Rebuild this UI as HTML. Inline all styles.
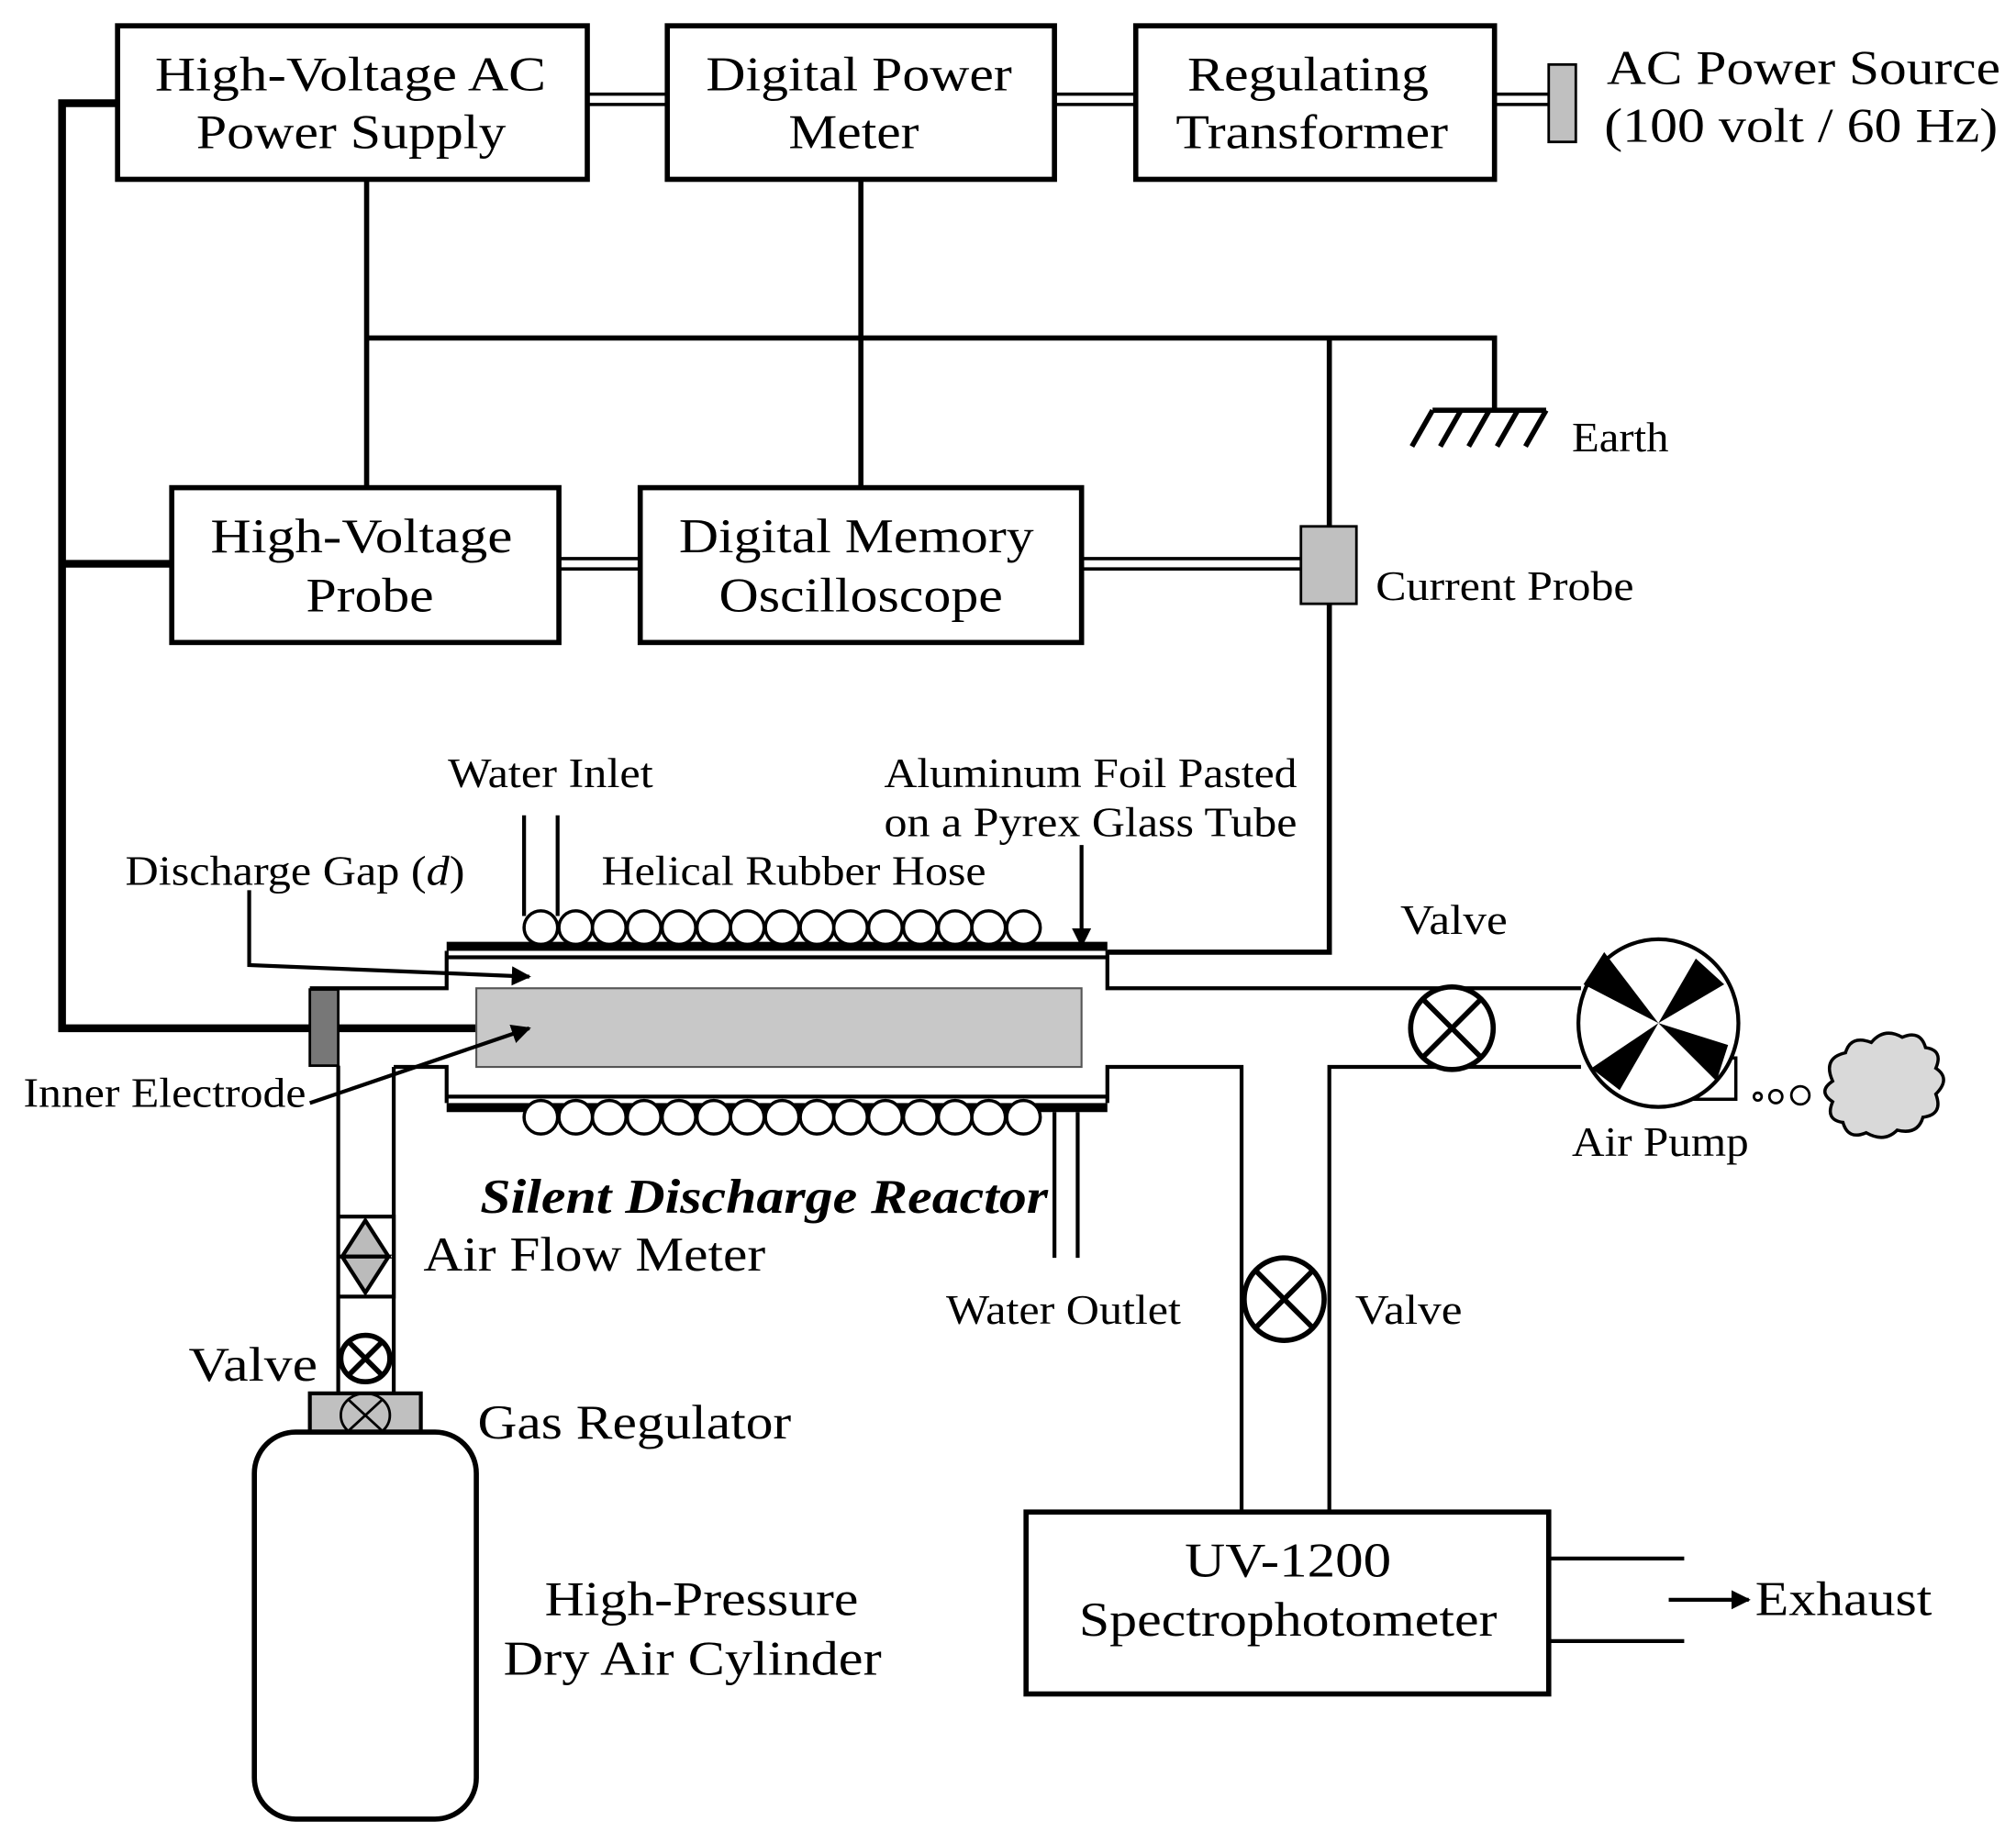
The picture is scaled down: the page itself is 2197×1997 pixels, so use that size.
<!DOCTYPE html>
<html><head><meta charset="utf-8"><style>html,body{margin:0;padding:0;background:#fff}svg{display:block}</style></head>
<body>
<svg width="2197" height="1997" viewBox="0 0 1562 1420" xmlns="http://www.w3.org/2000/svg" font-family="'Liberation Serif', serif" fill="none" stroke="#000">
<defs>
<marker id="ah" viewBox="0 0 10 10" refX="9" refY="5" markerWidth="5" markerHeight="5" orient="auto"><path d="M0,0 L10,5 L0,10 z" fill="#000" stroke="none"/></marker>
</defs>
<rect width="1562" height="1420" fill="#fff" stroke="none"/>
<g stroke-width="4">
<rect x="91" y="20" width="364" height="119"/>
<rect x="517" y="20" width="300" height="119"/>
<rect x="880" y="20" width="278" height="119"/>
<rect x="133" y="378" width="300" height="120"/>
<rect x="496" y="378" width="342" height="120"/>
<rect x="795" y="1172" width="405" height="141"/>
</g>
<g stroke-width="2.5">
<line x1="455" y1="73" x2="517" y2="73"/><line x1="455" y1="81" x2="517" y2="81"/>
<line x1="817" y1="73" x2="880" y2="73"/><line x1="817" y1="81" x2="880" y2="81"/>
<line x1="1158" y1="73" x2="1200" y2="73"/><line x1="1158" y1="81" x2="1200" y2="81"/>
<line x1="433" y1="433" x2="496" y2="433"/><line x1="433" y1="441" x2="496" y2="441"/>
<line x1="838" y1="433" x2="1008" y2="433"/><line x1="838" y1="441" x2="1008" y2="441"/>
</g>
<rect x="1200" y="50" width="21" height="60" fill="#c0c0c0" stroke-width="2"/>
<g stroke-width="4">
<line x1="284" y1="139" x2="284" y2="378"/>
<line x1="667" y1="139" x2="667" y2="378"/>
<polyline points="284,262 1158,262 1158,318"/>
<line x1="1030" y1="262" x2="1030" y2="408"/>
<polyline points="1030,468 1030,738 858,738"/>
<line x1="1110" y1="318" x2="1198" y2="318"/>
<line x1="1110" y1="318" x2="1094" y2="346"/><line x1="1132" y1="318" x2="1116" y2="346"/><line x1="1154" y1="318" x2="1138" y2="346"/><line x1="1176" y1="318" x2="1160" y2="346"/><line x1="1198" y1="318" x2="1182" y2="346"/>
</g>
<g stroke-width="6">
<polyline points="91,80 48,80 48,797 240,797"/>
<line x1="48" y1="437" x2="133" y2="437"/>
<line x1="262" y1="797" x2="369" y2="797"/>
</g>
<rect x="1008" y="408" width="43" height="60" fill="#c0c0c0" stroke-width="2"/>
<rect x="346" y="730" width="512" height="7" fill="#000" stroke="none"/>
<rect x="346" y="855" width="512" height="7" fill="#000" stroke="none"/>
<g stroke-width="3">
<line x1="346" y1="742" x2="858" y2="742"/>
<line x1="346" y1="850" x2="858" y2="850"/>
<polyline points="240,766 346,766 346,737"/>
<polyline points="305,827 346,827 346,855"/>
<polyline points="858,737 858,766 1225,766"/>
<polyline points="858,855 858,827 962,827 962,1172"/>
<polyline points="1225,827 1030,827 1030,1172"/>
<line x1="262" y1="826" x2="262" y2="1080"/>
<line x1="305" y1="827" x2="305" y2="1080"/>
<line x1="406" y1="632" x2="406" y2="710"/><line x1="432" y1="632" x2="432" y2="710"/>
<line x1="817" y1="862" x2="817" y2="975"/><line x1="835" y1="862" x2="835" y2="975"/>
</g>
<rect x="369" y="766" width="469" height="61" fill="#c8c8c8" stroke="#555" stroke-width="1.5"/>
<rect x="240" y="767" width="22" height="59" fill="#777" stroke="#000" stroke-width="2"/>
<g stroke-width="2.5" fill="#fff">
<circle cx="419" cy="719" r="13"/><circle cx="446" cy="719" r="13"/><circle cx="472" cy="719" r="13"/><circle cx="499" cy="719" r="13"/><circle cx="526" cy="719" r="13"/><circle cx="553" cy="719" r="13"/><circle cx="579" cy="719" r="13"/><circle cx="606" cy="719" r="13"/><circle cx="633" cy="719" r="13"/><circle cx="659" cy="719" r="13"/><circle cx="686" cy="719" r="13"/><circle cx="713" cy="719" r="13"/><circle cx="740" cy="719" r="13"/><circle cx="766" cy="719" r="13"/><circle cx="793" cy="719" r="13"/>
<circle cx="419" cy="866" r="13"/><circle cx="446" cy="866" r="13"/><circle cx="472" cy="866" r="13"/><circle cx="499" cy="866" r="13"/><circle cx="526" cy="866" r="13"/><circle cx="553" cy="866" r="13"/><circle cx="579" cy="866" r="13"/><circle cx="606" cy="866" r="13"/><circle cx="633" cy="866" r="13"/><circle cx="659" cy="866" r="13"/><circle cx="686" cy="866" r="13"/><circle cx="713" cy="866" r="13"/><circle cx="740" cy="866" r="13"/><circle cx="766" cy="866" r="13"/><circle cx="793" cy="866" r="13"/>
</g>
<g stroke-width="3" marker-end="url(#ah)">
<line x1="838" y1="655" x2="838" y2="733"/>
<polyline points="193,690 193,748 410,757"/>
<line x1="240" y1="855" x2="410" y2="797"/>
<line x1="1293" y1="1240" x2="1355" y2="1240"/>
</g>
<rect x="262" y="943" width="43" height="62" fill="#fff" stroke-width="3"/>
<polygon points="283,946 265,974 301,974" fill="#bbb" stroke-width="3"/>
<polygon points="283,1002 265,974 301,974" fill="#bbb" stroke-width="3"/>
<ellipse cx="283" cy="1053" rx="19" ry="18" fill="#fff" stroke-width="4"/>
<line x1="270" y1="1040" x2="296" y2="1066" stroke-width="4"/><line x1="296" y1="1040" x2="270" y2="1066" stroke-width="4"/>
<rect x="240" y="1080" width="86" height="30" fill="#c0c0c0" stroke-width="3"/>
<ellipse cx="283" cy="1097" rx="19" ry="17" stroke-width="2"/>
<line x1="270" y1="1085" x2="296" y2="1109" stroke-width="2"/><line x1="296" y1="1085" x2="270" y2="1109" stroke-width="2"/>
<rect x="197" y="1110" width="172" height="300" rx="32" fill="#fff" stroke-width="4"/>
<g stroke-width="4" fill="#fff">
<ellipse cx="1125" cy="797" rx="32" ry="32"/>
<line x1="1103" y1="775" x2="1147" y2="819"/><line x1="1147" y1="775" x2="1103" y2="819"/>
<ellipse cx="995" cy="1007" rx="31" ry="32"/>
<line x1="973" y1="985" x2="1017" y2="1029"/><line x1="1017" y1="985" x2="973" y2="1029"/>
</g>
<polyline points="1312,820 1345,820 1345,852 1285,852" stroke-width="2.5"/>
<ellipse cx="1285" cy="793" rx="62" ry="65" fill="#fff" stroke-width="3"/>
<g fill="#000" stroke="none">
<polygon points="1285,793 1227,763 1243,738"/>
<polygon points="1285,793 1314,743 1336,763"/>
<polygon points="1285,793 1339,810 1330,838"/>
<polygon points="1285,793 1255,845 1233,828"/>
</g>
<g stroke-width="2"><circle cx="1362" cy="850" r="3"/><circle cx="1376" cy="850" r="5"/><circle cx="1395" cy="849" r="7"/></g>
<path d="M1420,838 q-8,-18 10,-22 q4,-14 20,-8 q10,-12 24,-4 q14,-6 18,8 q14,2 8,16 q12,8 0,20 q6,16 -10,18 q-4,14 -20,10 q-10,10 -24,2 q-14,6 -18,-8 q-14,-2 -8,-16 q-12,-8 0,-16z" fill="#d9d9d9" stroke-width="2.5"/>
<g stroke-width="3"><line x1="1200" y1="1208" x2="1305" y2="1208"/><line x1="1200" y1="1272" x2="1305" y2="1272"/></g>
<g fill="#000" stroke="none" font-size="38">
<text x="120" y="70" textLength="303" lengthAdjust="spacingAndGlyphs">High-Voltage AC</text>
<text x="152" y="115" textLength="240" lengthAdjust="spacingAndGlyphs">Power Supply</text>
<text x="547" y="70" textLength="237" lengthAdjust="spacingAndGlyphs">Digital Power</text>
<text x="611" y="115" textLength="101" lengthAdjust="spacingAndGlyphs">Meter</text>
<text x="920" y="70" textLength="187" lengthAdjust="spacingAndGlyphs">Regulating</text>
<text x="911" y="115" textLength="211" lengthAdjust="spacingAndGlyphs">Transformer</text>
<text x="1245" y="65" textLength="305" lengthAdjust="spacingAndGlyphs">AC Power Source</text>
<text x="1243" y="110" textLength="305" lengthAdjust="spacingAndGlyphs">(100 volt / 60 Hz)</text>
<text x="163" y="428" textLength="234" lengthAdjust="spacingAndGlyphs">High-Voltage</text>
<text x="237" y="474" textLength="99" lengthAdjust="spacingAndGlyphs">Probe</text>
<text x="526" y="428" textLength="275" lengthAdjust="spacingAndGlyphs">Digital Memory</text>
<text x="557" y="474" textLength="220" lengthAdjust="spacingAndGlyphs">Oscilloscope</text>
<text x="328" y="985" textLength="265" lengthAdjust="spacingAndGlyphs">Air Flow Meter</text>
<text x="146" y="1070" textLength="100" lengthAdjust="spacingAndGlyphs">Valve</text>
<text x="370" y="1115" textLength="243" lengthAdjust="spacingAndGlyphs">Gas Regulator</text>
<text x="422" y="1252" textLength="243" lengthAdjust="spacingAndGlyphs">High-Pressure</text>
<text x="390" y="1298" textLength="293" lengthAdjust="spacingAndGlyphs">Dry Air Cylinder</text>
<text x="918" y="1222" textLength="160" lengthAdjust="spacingAndGlyphs">UV-1200</text>
<text x="836" y="1268" textLength="324" lengthAdjust="spacingAndGlyphs">Spectrophotometer</text>
<text x="1360" y="1252" textLength="137" lengthAdjust="spacingAndGlyphs">Exhaust</text>
<text x="372" y="940" font-weight="bold" font-style="italic" textLength="440" lengthAdjust="spacingAndGlyphs">Silent Discharge Reactor</text>
</g>
<g fill="#000" stroke="none" font-size="32">
<text x="1218" y="350" textLength="75" lengthAdjust="spacingAndGlyphs">Earth</text>
<text x="1066" y="465" textLength="200" lengthAdjust="spacingAndGlyphs">Current Probe</text>
<text x="347" y="610" textLength="159" lengthAdjust="spacingAndGlyphs">Water Inlet</text>
<text x="685" y="610" textLength="320" lengthAdjust="spacingAndGlyphs">Aluminum Foil Pasted</text>
<text x="685" y="648" textLength="320" lengthAdjust="spacingAndGlyphs">on a Pyrex Glass Tube</text>
<text x="97" y="686" textLength="263" lengthAdjust="spacingAndGlyphs">Discharge Gap (<tspan font-style="italic">d</tspan>)</text>
<text x="466" y="686" textLength="298" lengthAdjust="spacingAndGlyphs">Helical Rubber Hose</text>
<text x="1085" y="724" textLength="83" lengthAdjust="spacingAndGlyphs">Valve</text>
<text x="18" y="858" textLength="219" lengthAdjust="spacingAndGlyphs">Inner Electrode</text>
<text x="1218" y="896" textLength="137" lengthAdjust="spacingAndGlyphs">Air Pump</text>
<text x="733" y="1026" textLength="182" lengthAdjust="spacingAndGlyphs">Water Outlet</text>
<text x="1050" y="1026" textLength="83" lengthAdjust="spacingAndGlyphs">Valve</text>
</g>
</svg>
</body></html>
